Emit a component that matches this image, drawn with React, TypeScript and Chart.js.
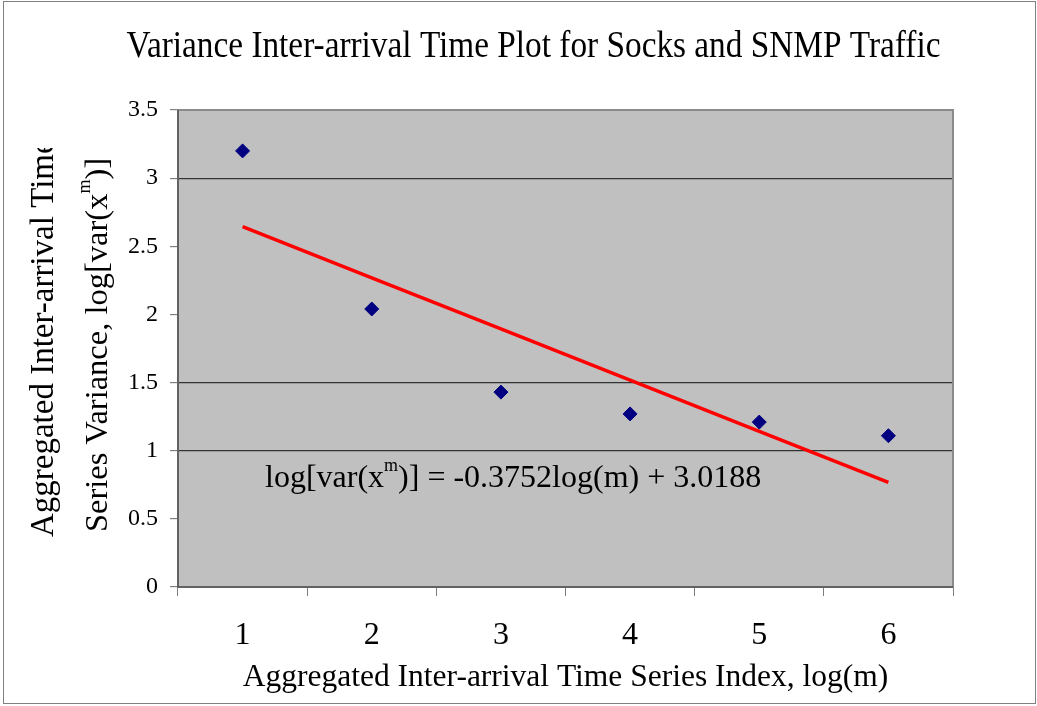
import React, { useEffect, useRef } from 'react';
import { Chart, registerables } from 'chart.js';

Chart.register(...registerables);

const categories = ['1', '2', '3', '4', '5', '6'];
const varianceValues = [3.2, 2.04, 1.43, 1.27, 1.21, 1.11];
const trendValues = [2.6436, 2.2684, 1.8932, 1.518, 1.1428, 0.7676];
const yTickValues = [0, 0.5, 1, 1.5, 2, 2.5, 3, 3.5];
const gridLineValues = [3, 1.5, 1];
const titleText = 'Variance Inter-arrival Time Plot for Socks and SNMP Traffic';
const xTitleText = 'Aggregated Inter-arrival Time Series Index, log(m)';
const yTitleLine1 = 'Aggregated Inter-arrival Time';
const yTitleLine2 = ['Series Variance, log[var(x', 'm', ')]'];
const equationParts = ['log[var(x', 'm', ')] = -0.3752log(m) + 3.0188'];

const FAMILY = '"Liberation Serif"';
Chart.defaults.font.family = FAMILY;

function drawWithSup(ctx: CanvasRenderingContext2D, parts: string[], size: number, supSize: number, supRise: number) {
  let x = 0;
  ctx.font = `${size}px ${FAMILY}`;
  ctx.fillText(parts[0], x, 0);
  x += ctx.measureText(parts[0]).width;
  ctx.font = `${supSize}px ${FAMILY}`;
  ctx.fillText(parts[1], x, -supRise);
  x += ctx.measureText(parts[1]).width;
  ctx.font = `${size}px ${FAMILY}`;
  ctx.fillText(parts[2], x, 0);
}

const framePlugin = {
  id: 'frame',
  beforeDraw(chart: any) {
    const { ctx, chartArea: a, width, height } = chart;
    ctx.save();
    ctx.fillStyle = '#ffffff';
    ctx.fillRect(0, 0, width, height);
    ctx.strokeStyle = '#808080';
    ctx.lineWidth = 1;
    ctx.strokeRect(3.5, 1.5, width - 5, height - 4);
    ctx.fillStyle = '#c0c0c0';
    ctx.fillRect(a.left, a.top, a.right - a.left, a.bottom - a.top);
    ctx.restore();
  },
  beforeDatasetsDraw(chart: any) {
    const { ctx, chartArea: a } = chart;
    ctx.save();
    ctx.strokeStyle = '#8a8a8a';
    ctx.lineWidth = 2;
    ctx.strokeRect(a.left, a.top, a.right - a.left, a.bottom - a.top);
    ctx.strokeStyle = '#555555';
    ctx.lineWidth = 1.5;
    ctx.beginPath();
    ctx.moveTo(a.left, a.top);
    ctx.lineTo(a.left, a.bottom);
    ctx.lineTo(a.right, a.bottom);
    ctx.stroke();
    ctx.restore();
  },
  afterDraw(chart: any) {
    const { ctx } = chart;
    ctx.save();
    ctx.fillStyle = '#000000';
    ctx.textAlign = 'left';
    ctx.textBaseline = 'alphabetic';

    // chart title (slightly condensed, as in the reference)
    ctx.save();
    ctx.font = `37px ${FAMILY}`;
    ctx.textAlign = 'center';
    ctx.translate(533.5, 57);
    ctx.scale(0.9, 1);
    ctx.fillText(titleText, 0, 0);
    ctx.restore();

    // y-axis title, line 1 (clipped at the top like the reference)
    ctx.save();
    ctx.beginPath();
    ctx.rect(0, 148, 200, 560);
    ctx.clip();
    ctx.translate(53, 537);
    ctx.rotate(-Math.PI / 2);
    ctx.font = `33px ${FAMILY}`;
    ctx.fillText(yTitleLine1, 0, 0);
    ctx.restore();

    // y-axis title, line 2 with superscript
    ctx.save();
    ctx.translate(107, 532);
    ctx.rotate(-Math.PI / 2);
    drawWithSup(ctx, yTitleLine2, 32.5, 18, 17);
    ctx.restore();

    // trendline equation
    ctx.save();
    ctx.translate(265, 487);
    drawWithSup(ctx, equationParts, 32, 18, 16);
    ctx.restore();

    ctx.restore();
  },
};

export default function App() {
  const canvasRef = useRef<HTMLCanvasElement | null>(null);

  useEffect(() => {
    const canvas = canvasRef.current;
    if (!canvas) return;
    const chart = new Chart(canvas, {
      type: 'line',
      data: {
        labels: categories,
        datasets: [
          {
            label: 'Variance',
            data: varianceValues,
            showLine: false,
            pointStyle: 'rectRot',
            pointRadius: 7,
            pointBackgroundColor: '#000080',
            pointBorderColor: '#000080',
            pointBorderWidth: 1,
            order: 0,
          },
          {
            label: 'Trend',
            data: trendValues,
            borderColor: '#ff0000',
            borderWidth: 3.5,
            pointRadius: 0,
            fill: false,
            tension: 0,
            order: 1,
          },
        ],
      },
      options: {
        animation: false,
        responsive: false,
        devicePixelRatio: 1,
        layout: { padding: { top: 110, left: 113, right: 84, bottom: 0 } },
        plugins: {
          legend: { display: false },
          tooltip: { enabled: false },
          title: { display: false },
        },
        scales: {
          x: {
            type: 'category',
            offset: true,
            grid: {
              offset: true,
              drawOnChartArea: false,
              drawTicks: true,
              tickLength: 9,
              tickColor: '#808080',
              color: '#808080',
            },
            border: { display: false },
            ticks: {
              color: '#000000',
              font: { family: FAMILY, size: 32 },
              padding: 20,
              maxRotation: 0,
            },
            title: {
              display: true,
              text: xTitleText,
              color: '#000000',
              font: { family: FAMILY, size: 31.5 },
              padding: { top: 0, bottom: 9 },
            },
            afterFit: (s: any) => {
              s.height = 119;
            },
          },
          y: {
            min: 0,
            max: 3.5,
            afterBuildTicks: (s: any) => {
              s.ticks = yTickValues.map((v) => ({ value: v }));
            },
            ticks: {
              color: '#000000',
              font: { family: FAMILY, size: 24 },
              padding: 12,
              callback: (v: any) => String(v),
            },
            grid: {
              color: (c: any) =>
                c.tick && gridLineValues.includes(c.tick.value) ? '#333333' : 'rgba(0,0,0,0)',
              tickColor: '#808080',
              tickLength: 8,
              lineWidth: 1.2,
            },
            border: { display: false },
            afterFit: (s: any) => {
              s.width = 65;
            },
          },
        },
      },
      plugins: [framePlugin],
    });
    return () => {
      chart.destroy();
    };
  }, []);

  return (
    <div style={{ position: 'absolute', left: 0, top: 0, width: 1037, height: 706 }}>
      <canvas ref={canvasRef} width={1037} height={706} style={{ width: 1037, height: 706, display: 'block' }} />
    </div>
  );
}
